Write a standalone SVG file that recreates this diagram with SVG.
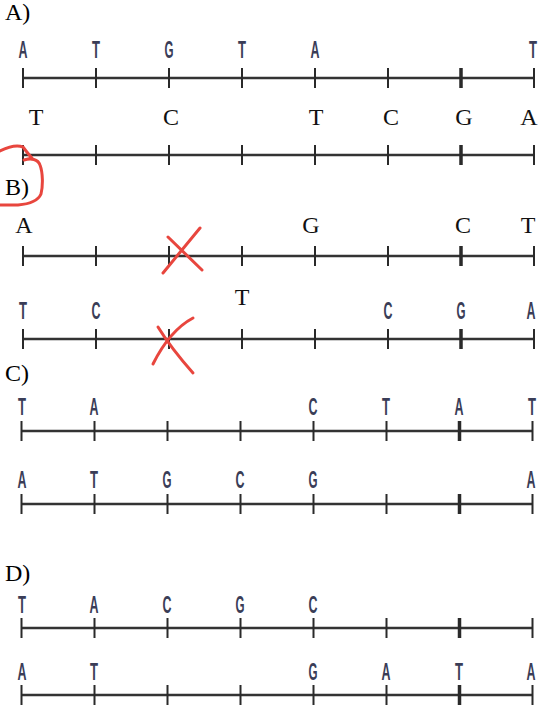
<svg xmlns="http://www.w3.org/2000/svg" xmlns:xlink="http://www.w3.org/1999/xlink" width="544" height="708" viewBox="0 0 544 708">
<style>
.lbl{font-family:"Liberation Serif","Times New Roman",serif;font-size:24px;fill:#000}
.ser{font-family:"Liberation Serif","Times New Roman",serif;font-size:24px;fill:#111;text-anchor:middle}
.san{font-family:"Liberation Sans",Arial,sans-serif;font-size:24px;font-weight:bold;fill:#3a3d57;text-anchor:middle}
.ax{stroke:#333;stroke-width:2.4;fill:none}
.tk{stroke:#2a2a2a;stroke-width:2;fill:none}
.red{stroke:#e8463e;stroke-width:3;fill:none;stroke-linecap:round;stroke-linejoin:round}
</style>
<defs>
<g id="axis">
<line class="ax" x1="0" y1="0" x2="511" y2="0"/>
<path class="tk" d="M0,-10V10M73,-10V10M146,-10V10M219,-10V10M292,-10V10M365,-10V10M511,-10V10"/>
<line x1="438" y1="-10" x2="438" y2="10" stroke="#2a2a2a" stroke-width="3.5"/>
</g>
</defs>
<rect width="544" height="708" fill="#fff"/>

<g id="labels">
<text class="lbl" x="5" y="20">A)</text>
<text class="lbl" x="5" y="195">B)</text>
<text class="lbl" x="5" y="381">C)</text>
<text class="lbl" x="5" y="581">D)</text>
</g>

<g id="connectors">
<use xlink:href="#axis" transform="translate(23,78)"/>
<use xlink:href="#axis" transform="translate(23,155)"/>
<use xlink:href="#axis" transform="translate(23,256)"/>
<use xlink:href="#axis" transform="translate(23,339)"/>
<use xlink:href="#axis" transform="translate(21.5,431)"/>
<use xlink:href="#axis" transform="translate(21.5,504)"/>
<use xlink:href="#axis" transform="translate(21.5,628)"/>
<use xlink:href="#axis" transform="translate(21.5,695)"/>
</g>

<g id="rowA1">
<text class="san" x="23" y="58" textLength="9" lengthAdjust="spacingAndGlyphs">A</text>
<text class="san" x="96" y="58" textLength="8" lengthAdjust="spacingAndGlyphs">T</text>
<text class="san" x="169" y="58" textLength="9" lengthAdjust="spacingAndGlyphs">G</text>
<text class="san" x="242" y="58" textLength="8" lengthAdjust="spacingAndGlyphs">T</text>
<text class="san" x="315" y="58" textLength="9" lengthAdjust="spacingAndGlyphs">A</text>
<text class="san" x="533" y="58" textLength="8" lengthAdjust="spacingAndGlyphs">T</text>
</g>
<g id="rowA2">
<text class="ser" x="36" y="125">T</text>
<text class="ser" x="171" y="125">C</text>
<text class="ser" x="316" y="125">T</text>
<text class="ser" x="391" y="125">C</text>
<text class="ser" x="464" y="125">G</text>
<text class="ser" x="529" y="125">A</text>
</g>
<g id="rowB1">
<text class="ser" x="24" y="233">A</text>
<text class="ser" x="311" y="233">G</text>
<text class="ser" x="463" y="233">C</text>
<text class="ser" x="528" y="233">T</text>
</g>
<g id="rowB2">
<text class="san" x="23" y="319" textLength="8" lengthAdjust="spacingAndGlyphs">T</text>
<text class="san" x="96" y="319" textLength="9" lengthAdjust="spacingAndGlyphs">C</text>
<text class="ser" x="242" y="305">T</text>
<text class="san" x="388" y="319" textLength="9" lengthAdjust="spacingAndGlyphs">C</text>
<text class="san" x="461" y="319" textLength="9" lengthAdjust="spacingAndGlyphs">G</text>
<text class="san" x="531" y="319" textLength="9" lengthAdjust="spacingAndGlyphs">A</text>
</g>
<g id="rowC1">
<text class="san" x="22" y="415" textLength="8" lengthAdjust="spacingAndGlyphs">T</text>
<text class="san" x="94" y="415" textLength="9" lengthAdjust="spacingAndGlyphs">A</text>
<text class="san" x="313" y="415" textLength="9" lengthAdjust="spacingAndGlyphs">C</text>
<text class="san" x="386" y="415" textLength="8" lengthAdjust="spacingAndGlyphs">T</text>
<text class="san" x="459" y="415" textLength="9" lengthAdjust="spacingAndGlyphs">A</text>
<text class="san" x="532" y="415" textLength="8" lengthAdjust="spacingAndGlyphs">T</text>
</g>
<g id="rowC2">
<text class="san" x="22" y="488" textLength="9" lengthAdjust="spacingAndGlyphs">A</text>
<text class="san" x="94" y="488" textLength="8" lengthAdjust="spacingAndGlyphs">T</text>
<text class="san" x="167" y="488" textLength="9" lengthAdjust="spacingAndGlyphs">G</text>
<text class="san" x="240" y="488" textLength="9" lengthAdjust="spacingAndGlyphs">C</text>
<text class="san" x="313" y="488" textLength="9" lengthAdjust="spacingAndGlyphs">G</text>
<text class="san" x="531" y="488" textLength="9" lengthAdjust="spacingAndGlyphs">A</text>
</g>
<g id="rowD1">
<text class="san" x="22" y="613" textLength="8" lengthAdjust="spacingAndGlyphs">T</text>
<text class="san" x="94" y="613" textLength="9" lengthAdjust="spacingAndGlyphs">A</text>
<text class="san" x="167" y="613" textLength="9" lengthAdjust="spacingAndGlyphs">C</text>
<text class="san" x="240" y="613" textLength="9" lengthAdjust="spacingAndGlyphs">G</text>
<text class="san" x="313" y="613" textLength="9" lengthAdjust="spacingAndGlyphs">C</text>
</g>
<g id="rowD2">
<text class="san" x="22" y="680" textLength="9" lengthAdjust="spacingAndGlyphs">A</text>
<text class="san" x="94" y="680" textLength="8" lengthAdjust="spacingAndGlyphs">T</text>
<text class="san" x="313" y="680" textLength="9" lengthAdjust="spacingAndGlyphs">G</text>
<text class="san" x="386" y="680" textLength="9" lengthAdjust="spacingAndGlyphs">A</text>
<text class="san" x="459" y="680" textLength="8" lengthAdjust="spacingAndGlyphs">T</text>
<text class="san" x="531" y="680" textLength="9" lengthAdjust="spacingAndGlyphs">A</text>
</g>

<g id="annotations">
<path class="red" d="M0,151 C8,147 17,145 23,147 C26,151 29,155 32,158 L24,160 C31,158 38,159 40,165 C43,173 43,186 41,194 C38,201 30,204 18,205 L0,205"/>
<path class="red" d="M200,228 L163,273 M168,237 L202,270"/>
<path class="red" d="M193,318 C178,326 164,342 153,364 M158,327 C166,340 178,356 193,373"/>
</g>
</svg>
